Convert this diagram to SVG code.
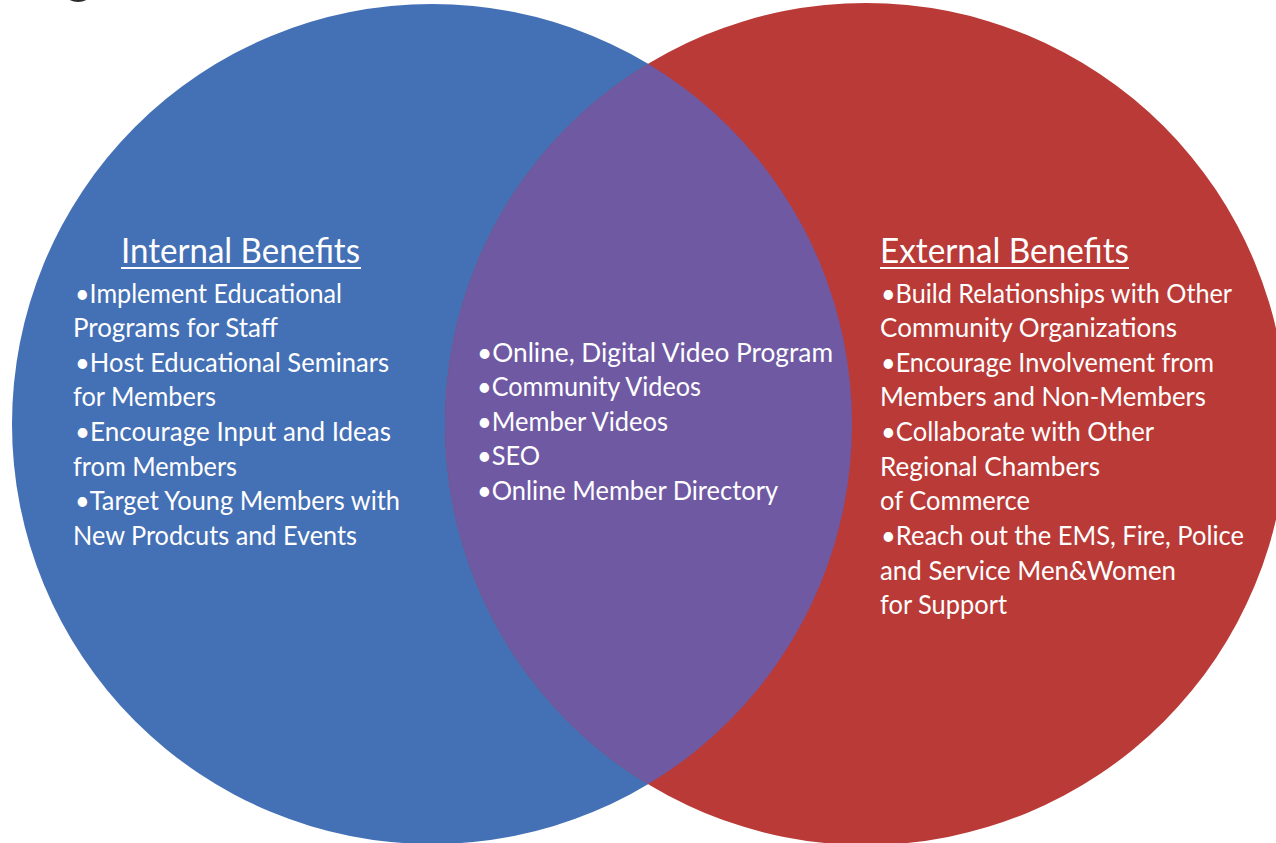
<svg xmlns="http://www.w3.org/2000/svg" width="1276" height="843" viewBox="0 0 1276 843">
  <style>
    .txt { font-family: Lato, "Open Sans", "Liberation Sans", sans-serif; fill: #ffffff; }
    .body { font-size: 26.5px; }
    .title { font-size: 35px; }
    .uline { stroke: #ffffff; stroke-width: 2; }
  </style>
  <defs>
    <clipPath id="blueClip">
      <circle cx="432" cy="424" r="420"/>
    </clipPath>
  </defs>

  <rect x="0" y="0" width="1276" height="843" fill="#ffffff"/>

  <!-- sliver of a heading cut off at the top edge -->
  <ellipse cx="78" cy="-4" rx="11" ry="6" fill="#2a2a2a"/>

  <g id="internal-circle">
    <circle cx="432" cy="424" r="420" fill="#4470B5"/>
  </g>
  <g id="external-circle">
    <circle cx="866" cy="424" r="421" fill="#B93A36"/>
  </g>
  <g id="overlap">
    <circle cx="866" cy="424" r="421" fill="#6F59A3" clip-path="url(#blueClip)"/>
  </g>

  <g id="connectors"></g>

  <g id="internal-benefits" class="txt">
    <text class="title" x="121" y="263" textLength="239" lengthAdjust="spacingAndGlyphs">Internal Benefits</text>
    <line class="uline" x1="121" y1="268" x2="361" y2="268"/>
    <text class="body" x="75" y="303" textLength="267" lengthAdjust="spacingAndGlyphs">•Implement Educational</text>
    <text class="body" x="73" y="337" textLength="205" lengthAdjust="spacingAndGlyphs">Programs for Staff</text>
    <text class="body" x="75" y="372" textLength="314" lengthAdjust="spacingAndGlyphs">•Host Educational Seminars</text>
    <text class="body" x="73" y="406" textLength="143" lengthAdjust="spacingAndGlyphs">for Members</text>
    <text class="body" x="75" y="441" textLength="316" lengthAdjust="spacingAndGlyphs">•Encourage Input and Ideas</text>
    <text class="body" x="73" y="476" textLength="164" lengthAdjust="spacingAndGlyphs">from Members</text>
    <text class="body" x="75" y="510" textLength="325" lengthAdjust="spacingAndGlyphs">•Target Young Members with</text>
    <text class="body" x="73" y="545" textLength="284" lengthAdjust="spacingAndGlyphs">New Prodcuts and Events</text>
  </g>

  <g id="shared-benefits" class="txt">
    <text class="body" x="477" y="362" textLength="356" lengthAdjust="spacingAndGlyphs">•Online, Digital Video Program</text>
    <text class="body" x="477" y="396" textLength="224" lengthAdjust="spacingAndGlyphs">•Community Videos</text>
    <text class="body" x="477" y="431" textLength="191" lengthAdjust="spacingAndGlyphs">•Member Videos</text>
    <text class="body" x="477" y="465" textLength="63" lengthAdjust="spacingAndGlyphs">•SEO</text>
    <text class="body" x="477" y="500" textLength="301" lengthAdjust="spacingAndGlyphs">•Online Member Directory</text>
  </g>

  <g id="external-benefits" class="txt">
    <text class="title" x="880" y="263" textLength="249" lengthAdjust="spacingAndGlyphs">External Benefits</text>
    <line class="uline" x1="880" y1="268" x2="1129" y2="268"/>
    <text class="body" x="881" y="303" textLength="351" lengthAdjust="spacingAndGlyphs">•Build Relationships with Other</text>
    <text class="body" x="880" y="337" textLength="297" lengthAdjust="spacingAndGlyphs">Community Organizations</text>
    <text class="body" x="881" y="372" textLength="333" lengthAdjust="spacingAndGlyphs">•Encourage Involvement from</text>
    <text class="body" x="880" y="406" textLength="326" lengthAdjust="spacingAndGlyphs">Members and Non-Members</text>
    <text class="body" x="881" y="441" textLength="273" lengthAdjust="spacingAndGlyphs">•Collaborate with Other</text>
    <text class="body" x="880" y="476" textLength="220" lengthAdjust="spacingAndGlyphs">Regional Chambers</text>
    <text class="body" x="880" y="510" textLength="150" lengthAdjust="spacingAndGlyphs">of Commerce</text>
    <text class="body" x="881" y="545" textLength="363" lengthAdjust="spacingAndGlyphs">•Reach out the EMS, Fire, Police</text>
    <text class="body" x="880" y="580" textLength="296" lengthAdjust="spacingAndGlyphs">and Service Men&amp;Women</text>
    <text class="body" x="880" y="614" textLength="127" lengthAdjust="spacingAndGlyphs">for Support</text>
  </g>
</svg>
